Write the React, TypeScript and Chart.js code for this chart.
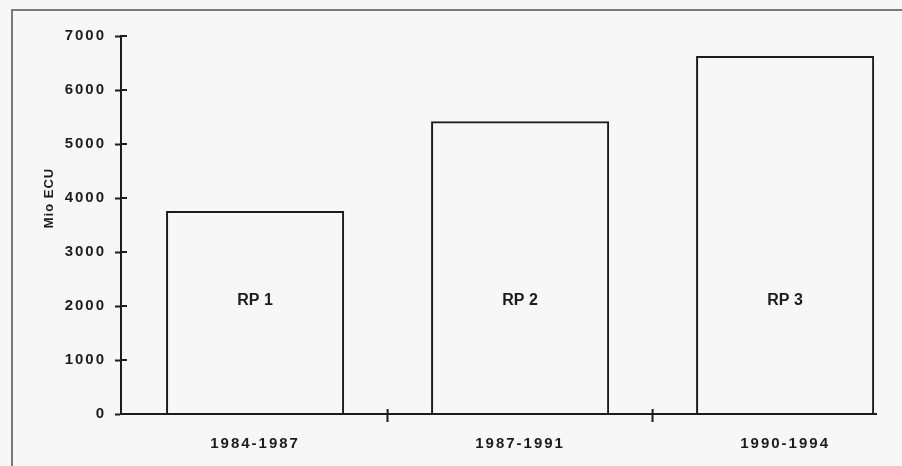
import React, { useEffect, useRef } from "react";
import { Chart, registerables } from "chart.js";

Chart.register(...registerables);

const periods = ["1984-1987", "1987-1991", "1990-1994"];
const programmes = ["RP 1", "RP 2", "RP 3"];
const fundingMioEcu = [3760, 5420, 6630];
const yTickValues = [0, 1000, 2000, 3000, 4000, 5000, 6000, 7000];
const yAxisTitle = "Mio ECU";
const labelLevel = 2100;

const INK = "#1c1c1c";
const FONT = "'Liberation Sans', Arial, sans-serif";

export default function App() {
  const canvasRef = useRef<HTMLCanvasElement | null>(null);

  useEffect(() => {
    document.body.style.margin = "0";
    const canvas = canvasRef.current;
    if (!canvas) return;

    const overlay = {
      id: "overlay",
      beforeDraw(chart: any) {
        (chart.ctx as any).letterSpacing = "2px";
      },
      afterDraw(chart: any) {
        const { ctx, scales } = chart;
        const x = scales.x;
        const y = scales.y;
        ctx.save();
        (ctx as any).letterSpacing = "0px";
        ctx.strokeStyle = INK;
        ctx.lineWidth = 2;
        // inner halves of tick marks (ticks cross the axes)
        y.ticks.forEach((t: any) => {
          const py = y.getPixelForValue(t.value);
          ctx.beginPath();
          ctx.moveTo(y.right, py);
          ctx.lineTo(y.right + 6, py);
          ctx.stroke();
        });
        x.ticks.forEach((t: any) => {
          if (Number.isInteger(t.value)) return;
          const px = x.getPixelForValue(t.value);
          ctx.beginPath();
          ctx.moveTo(px, x.top);
          ctx.lineTo(px, x.top - 5);
          ctx.stroke();
        });
        // programme labels inside the bars
        ctx.fillStyle = INK;
        ctx.font = `bold 16px ${FONT}`;
        ctx.textAlign = "center";
        ctx.textBaseline = "middle";
        const meta = chart.getDatasetMeta(0);
        meta.data.forEach((bar: any, i: number) => {
          ctx.fillText(programmes[i], bar.x, y.getPixelForValue(labelLevel));
        });
        // y axis title
        (ctx as any).letterSpacing = "1px";
        ctx.font = `bold 13px ${FONT}`;
        ctx.translate(49, 198);
        ctx.rotate(-Math.PI / 2);
        ctx.fillText(yAxisTitle, 0, 0);
        ctx.restore();
      },
    };

    const chart = new Chart(canvas, {
      type: "bar",
      data: {
        datasets: [
          {
            data: fundingMioEcu.map((v, i) => ({ x: i + 1, y: v })),
            backgroundColor: "rgba(0,0,0,0)",
            borderColor: INK,
            borderWidth: 2,
            borderSkipped: "bottom",
            // sample spacing includes the half-step ticks, so 2 x 0.672
            barPercentage: 1.344,
            categoryPercentage: 1,
          },
        ],
      },
      options: {
        responsive: false,
        animation: false,
        devicePixelRatio: 1,
        layout: { padding: { left: 0, top: 36, right: 26, bottom: 0 } },
        plugins: {
          legend: { display: false },
          tooltip: { enabled: false },
          title: { display: false },
        },
        scales: {
          x: {
            type: "linear",
            offset: false,
            min: 0.494,
            max: 3.343,
            afterBuildTicks(scale: any) {
              scale.ticks = [1, 1.5, 2, 2.5, 3].map((v) => ({ value: v }));
            },
            afterFit(scale: any) {
              scale.height = 52;
            },
            grid: {
              display: true,
              offset: false,
              drawOnChartArea: false,
              drawTicks: true,
              tickLength: 8,
              tickWidth: 2,
              tickColor: (ctx: any) =>
                ctx.tick && Number.isInteger(ctx.tick.value) ? "rgba(0,0,0,0)" : INK,
            },
            border: { display: true, color: INK, width: 2 },
            ticks: {
              autoSkip: false,
              maxRotation: 0,
              padding: 13,
              color: INK,
              font: { family: FONT, size: 15, weight: "bold" },
              callback: (value: any) =>
                Number.isInteger(value) ? periods[value - 1] : "",
            },
          },
          y: {
            min: 0,
            max: 7000,
            afterBuildTicks(scale: any) {
              scale.ticks = yTickValues.map((v) => ({ value: v }));
            },
            afterFit(scale: any) {
              scale.width = 121;
            },
            grid: {
              display: true,
              drawOnChartArea: false,
              drawTicks: true,
              tickLength: 6,
              tickWidth: 2,
              tickColor: INK,
            },
            border: { display: true, color: INK, width: 2 },
            ticks: {
              padding: 9,
              color: INK,
              font: { family: FONT, size: 15, weight: "bold" },
              callback: (value: any) => String(value),
            },
          },
        },
      },
      plugins: [overlay],
    });

    return () => chart.destroy();
  }, []);

  return (
    <div
      style={{
        position: "relative",
        width: 902,
        height: 466,
        background: "#f7f7f7",
        overflow: "hidden",
      }}
    >
      <div
        style={{
          position: "absolute",
          left: 11,
          top: 9,
          width: 1000,
          height: 1000,
          borderTop: "2px solid #7a7a7a",
          borderLeft: "2px solid #7a7a7a",
        }}
      />
      <canvas
        ref={canvasRef}
        width={902}
        height={466}
        style={{ position: "absolute", left: 0, top: 0, width: 902, height: 466 }}
      />
    </div>
  );
}
